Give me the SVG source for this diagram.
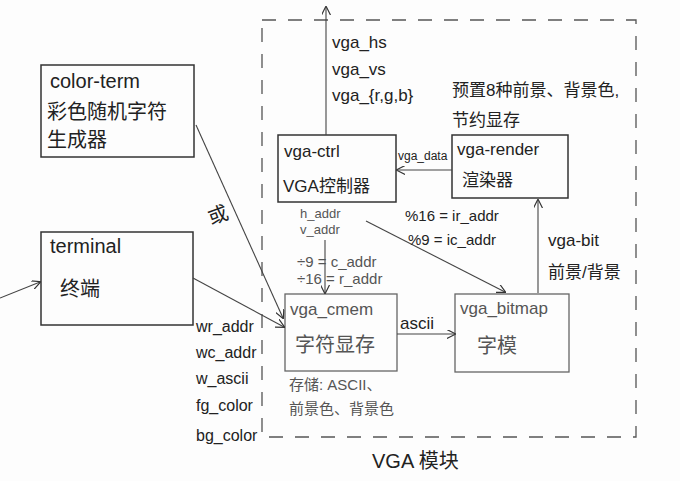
<svg xmlns="http://www.w3.org/2000/svg" width="680" height="481" viewBox="0 0 680 481">
<defs>
<marker id="ah" viewBox="0 0 10 10" refX="9" refY="5" markerWidth="9" markerHeight="9" orient="auto-start-reverse" markerUnits="userSpaceOnUse">
<path d="M0,0 L10,5 L0,10" fill="none" stroke="#333" stroke-width="1.3"/>
</marker>
</defs>
<style>
.bg{fill:#fdfdfd}
.box{fill:none;stroke:#333;stroke-width:1.5}
.lbox{fill:none;stroke:#666;stroke-width:1.3}
.ln{fill:none;stroke:#444;stroke-width:1.1}
.dash{fill:none;stroke:#555;stroke-width:1.3;stroke-dasharray:14 12}
text{font-family:"Liberation Sans","Noto Sans CJK SC",sans-serif;fill:#222}
.t{font-size:20px}
.m{font-size:17px}
.l{font-size:16px}
.s{font-size:15px}
.ss{font-size:13px}
.xs{font-size:12px}
.g{fill:#555}
</style>
<rect class="bg" x="0" y="0" width="680" height="481"/>
<g id="vga-module">
<path class="dash" d="M262,20 L636,20 L636,437 L262,437 Z"/>
<text class="t" x="372" y="468">VGA 模块</text>
</g>
<g id="color-term">
<rect class="box" x="41" y="65" width="153" height="92"/>
<text class="t" x="50" y="88">color-term</text>
<text class="t" x="47" y="119">彩色随机字符</text>
<text class="t" x="47" y="147">生成器</text>
</g>
<g id="terminal">
<rect class="box" x="41" y="232" width="152" height="93"/>
<text class="t" x="50" y="253">terminal</text>
<text class="t" x="60" y="296">终端</text>
</g>
<g id="vga-ctrl">
<rect class="box" x="278" y="135" width="118" height="67"/>
<text class="m" x="284" y="157">vga-ctrl</text>
<text class="m" x="283" y="192">VGA控制器</text>
</g>
<g id="vga-render">
<rect class="box" x="452" y="135" width="116" height="63"/>
<text class="m" x="457" y="155">vga-render</text>
<text class="m" x="462" y="186">渲染器</text>
</g>
<g id="vga-cmem">
<rect class="lbox" x="285" y="294" width="112" height="77"/>
<text class="m g" x="290" y="315">vga_cmem</text>
<text class="t g" x="295" y="352">字符显存</text>
<text class="s g" x="289" y="390">存储: ASCII、</text>
<text class="s g" x="289" y="414">前景色、背景色</text>
</g>
<g id="vga-bitmap">
<rect class="lbox" x="455" y="294" width="114" height="78"/>
<text class="m g" x="460" y="314">vga_bitmap</text>
<text class="t g" x="477" y="353">字模</text>
</g>
<g id="connectors">
<line class="ln" x1="0" y1="298" x2="40" y2="282" marker-end="url(#ah)"/>
<line class="ln" x1="196" y1="125" x2="283" y2="318" marker-end="url(#ah)"/>
<text class="t" x="208" y="222" transform="rotate(-20 218 215)">或</text>
<line class="ln" x1="193" y1="278" x2="284" y2="327" marker-end="url(#ah)"/>
<text class="l" x="196" y="332">wr_addr</text>
<text class="l" x="196" y="358">wc_addr</text>
<text class="l" x="196" y="384">w_ascii</text>
<text class="l" x="196" y="411">fg_color</text>
<text class="l" x="196" y="441">bg_color</text>
<line class="ln" x1="326" y1="135" x2="326" y2="7" marker-end="url(#ah)"/>
<text class="m" x="332" y="48">vga_hs</text>
<text class="m" x="332" y="75">vga_vs</text>
<text class="m" x="332" y="101">vga_{r,g,b}</text>
<text class="m" x="452" y="96">预置8种前景、背景色,</text>
<text class="m" x="452" y="126">节约显存</text>
<line class="ln" x1="452" y1="170" x2="397" y2="170" marker-end="url(#ah)"/>
<text class="xs" x="398" y="160">vga_data</text>
<text class="ss g" x="300" y="218">h_addr</text>
<text class="ss g" x="300" y="234">v_addr</text>
<line class="ln" x1="325" y1="240" x2="325" y2="293" marker-end="url(#ah)"/>
<text class="s g" x="297" y="267">÷9 = c_addr</text>
<text class="s g" x="297" y="284">÷16 = r_addr</text>
<line class="ln" x1="366" y1="221" x2="505" y2="292" marker-end="url(#ah)"/>
<text class="s" x="405" y="221">%16 = ir_addr</text>
<text class="s" x="408" y="245">%9 = ic_addr</text>
<line class="ln" x1="397" y1="334" x2="455" y2="334" marker-end="url(#ah)"/>
<text class="m" x="400" y="329">ascii</text>
<line class="ln" x1="538" y1="293" x2="538" y2="200" marker-end="url(#ah)"/>
<text class="m" x="548" y="246">vga-bit</text>
<text class="m" x="548" y="278">前景/背景</text>
</g>
</svg>
